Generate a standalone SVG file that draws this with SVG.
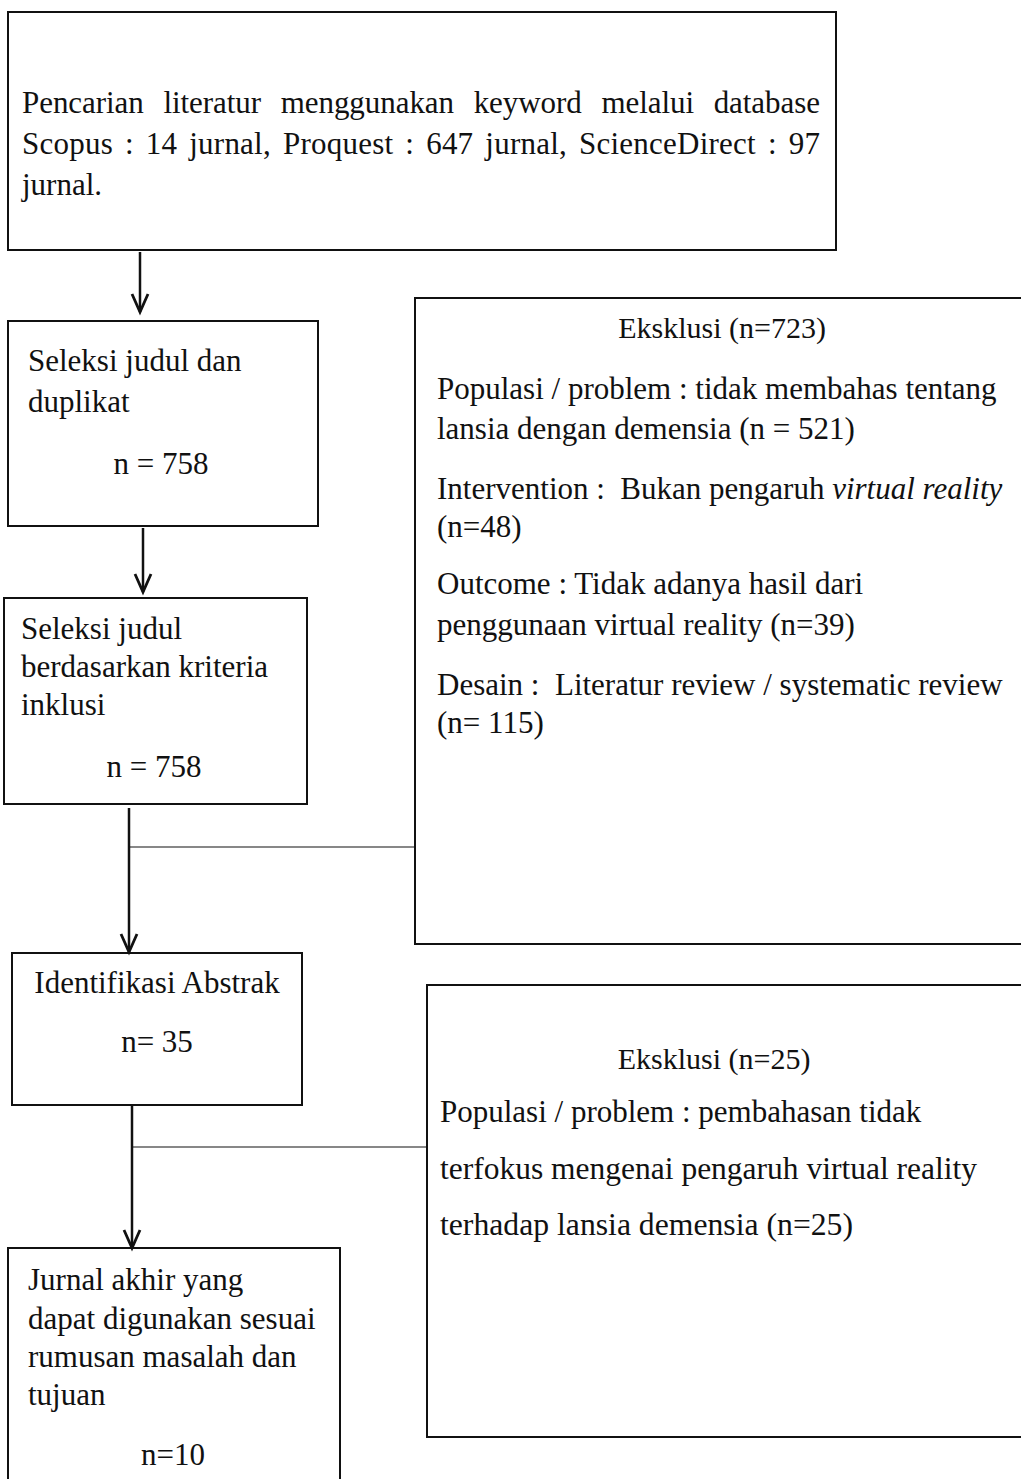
<svg xmlns="http://www.w3.org/2000/svg" width="1021" height="1479" viewBox="0 0 1021 1479">
<style>
  .box { fill: #fff; stroke: #111; stroke-width: 2; }
  .t { font-family: "Liberation Serif", "Times New Roman", serif; font-size: 31px; fill: #111; }
  .h { font-size: 30px; }
  .c { text-anchor: middle; }
  .conn { stroke: #111; stroke-width: 2.5; fill: none; }
  .thin { stroke: #111; stroke-width: 1.2; fill: none; }
</style>
<defs>
  <marker id="arrow" markerUnits="userSpaceOnUse" markerWidth="24" markerHeight="24" refX="19" refY="10" orient="auto" overflow="visible">
    <path d="M1,2 L19,10 L1,18" fill="none" stroke="#111" stroke-width="2.8"/>
  </marker>
</defs>
<rect width="1021" height="1479" fill="#fff"/>

<g id="node-search">
  <rect class="box" x="8" y="12" width="828" height="238"/>
  <text class="t" x="22" y="113" word-spacing="12" textLength="798" lengthAdjust="spacing">Pencarian literatur menggunakan keyword melalui database</text>
  <text class="t" x="22" y="154" word-spacing="4" textLength="798" lengthAdjust="spacing">Scopus : 14 jurnal, Proquest : 647 jurnal, ScienceDirect : 97</text>
  <text class="t" x="22" y="195">jurnal.</text>
</g>

<g id="node-seleksi-duplikat">
  <rect class="box" x="8" y="321" width="310" height="205"/>
  <text class="t" x="28" y="371">Seleksi judul dan</text>
  <text class="t" x="28" y="412">duplikat</text>
  <text class="t c" x="161" y="474">n = 758</text>
</g>

<g id="node-seleksi-inklusi">
  <rect class="box" x="4" y="598" width="303" height="206"/>
  <text class="t" x="21" y="639">Seleksi judul</text>
  <text class="t" x="21" y="677">berdasarkan kriteria</text>
  <text class="t" x="21" y="715">inklusi</text>
  <text class="t c" x="154" y="777">n = 758</text>
</g>

<g id="node-abstrak">
  <rect class="box" x="12" y="953" width="290" height="152"/>
  <text class="t c" x="157" y="993">Identifikasi Abstrak</text>
  <text class="t c" x="157" y="1052">n= 35</text>
</g>

<g id="node-akhir">
  <rect class="box" x="8" y="1248" width="332" height="250"/>
  <text class="t" x="28" y="1290">Jurnal akhir yang</text>
  <text class="t" x="28" y="1329">dapat digunakan sesuai</text>
  <text class="t" x="28" y="1367">rumusan masalah dan</text>
  <text class="t" x="28" y="1405">tujuan</text>
  <text class="t c" x="173" y="1465">n=10</text>
</g>

<g id="node-eksklusi-1">
  <rect class="box" x="415" y="298" width="630" height="646"/>
  <text class="t h c" x="722" y="338">Eksklusi (n=723)</text>
  <text class="t" x="437" y="399">Populasi / problem : tidak membahas tentang</text>
  <text class="t" x="437" y="439">lansia dengan demensia (n = 521)</text>
  <text class="t" x="437" y="499" xml:space="preserve">Intervention :  Bukan pengaruh <tspan font-style="italic">virtual reality</tspan></text>
  <text class="t" x="437" y="537">(n=48)</text>
  <text class="t" x="437" y="594">Outcome : Tidak adanya hasil dari</text>
  <text class="t" x="437" y="635">penggunaan virtual reality (n=39)</text>
  <text class="t" x="437" y="695" xml:space="preserve">Desain :  Literatur review / systematic review</text>
  <text class="t" x="437" y="733">(n= 115)</text>
</g>

<g id="node-eksklusi-2">
  <rect class="box" x="427" y="985" width="620" height="452"/>
  <text class="t h c" x="714" y="1069">Eksklusi (n=25)</text>
  <text class="t" x="440" y="1122">Populasi / problem : pembahasan tidak</text>
  <text class="t" x="440" y="1179" textLength="537" lengthAdjust="spacingAndGlyphs">terfokus mengenai pengaruh virtual reality</text>
  <text class="t" x="440" y="1235" textLength="413" lengthAdjust="spacingAndGlyphs">terhadap lansia demensia (n=25)</text>
</g>

<g id="connectors">
  <line class="conn" x1="140" y1="252" x2="140" y2="312" marker-end="url(#arrow)"/>
  <line class="conn" x1="143" y1="528" x2="143" y2="592" marker-end="url(#arrow)"/>
  <line class="conn" x1="129" y1="808" x2="129" y2="952" marker-end="url(#arrow)"/>
  <line class="thin" x1="129" y1="847" x2="415" y2="847"/>
  <line class="conn" x1="132" y1="1106" x2="132" y2="1248" marker-end="url(#arrow)"/>
  <line class="thin" x1="132" y1="1147" x2="427" y2="1147"/>
</g>
</svg>
